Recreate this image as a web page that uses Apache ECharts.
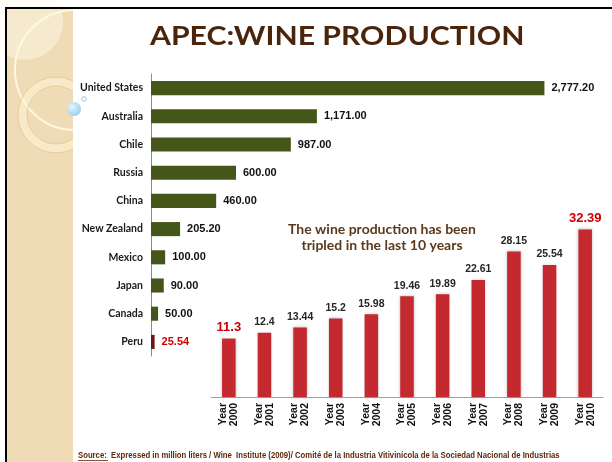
<!DOCTYPE html>
<html>
<head>
<meta charset="utf-8">
<script src="https://cdn.jsdelivr.net/npm/echarts@6/dist/echarts.min.js"></script>
<style>
  html, body { margin: 0; padding: 0; background: #fff; }
  #main { width: 612px; height: 462px; }
</style>
</head>
<body>
<div id="main"></div>
<script>
(function(){
    // APEC producers, million liters
    var countries = ['United States', 'Australia', 'Chile', 'Russia', 'China', 'New Zealand', 'Mexico', 'Japan', 'Canada', 'Peru'];
    var production = [2777.20, 1171.00, 987.00, 600.00, 460.00, 205.20, 100.00, 90.00, 50.00, 25.54];

    // Peru production by year
    var years = ['2000', '2001', '2002', '2003', '2004', '2005', '2006', '2007', '2008', '2009', '2010'];
    var peruProduction = [11.3, 12.4, 13.44, 15.2, 15.98, 19.46, 19.89, 22.61, 28.15, 25.54, 32.39];

    var gill = 'Lato, "Noto Sans", sans-serif';
    var arial = '"Liberation Sans", Arial, sans-serif';

    var myChart = echarts.init(document.getElementById('main'));

    var countryData = production.map(function(v, i){
        var isPeru = countries[i] === 'Peru';
        return {
            value: v,
            itemStyle: { color: isPeru ? '#6b1818' : '#445619' },
            label: { color: isPeru ? '#cc0000' : '#111' }
        };
    });

    var yearData = peruProduction.map(function(v, i){
        var big = (i === 0 || i === peruProduction.length - 1);
        return {
            value: v,
            label: big ? { color: '#cc0000', fontSize: 13 } : {}
        };
    });

    option = {
        animation: false,
        graphic: [
            // left decorative panel
            { type: 'rect', z: 0, shape: { x: 7, y: 9, width: 66, height: 453 }, style: { fill: '#efdcb6' } },
            { type: 'circle', z: 0, shape: { cx: 25, cy: 22, r: 38 }, style: { fill: 'rgba(255,250,235,0.45)' } },
            { type: 'circle', z: 0, shape: { cx: 75, cy: 70, r: 60 }, style: { fill: 'none', stroke: 'rgba(255,250,230,0.9)', lineWidth: 2 } },
            { type: 'ring', z: 0, shape: { cx: 56, cy: 115, r: 38, r0: 29 }, style: { fill: 'rgba(255,244,215,0.55)', stroke: 'rgba(220,190,130,0.6)', lineWidth: 1 } },
            { type: 'rect', z: 0, shape: { x: 73, y: 9, width: 540, height: 453 }, style: { fill: '#fff' } },
            { type: 'circle', z: 1, shape: { cx: 74, cy: 109, r: 7 },
              style: { fill: new echarts.graphic.RadialGradient(0.35, 0.35, 0.8, [{ offset: 0, color: '#e6f5fc' }, { offset: 1, color: '#8ccbe8' }]) } },
            { type: 'circle', z: 1, shape: { cx: 84, cy: 99, r: 2.3 }, style: { fill: '#fff', stroke: '#8ccbe8', lineWidth: 1 } },
            // frame
            { type: 'rect', z: 1, shape: { x: 5, y: 7, width: 2, height: 455 }, style: { fill: '#000' } },
            { type: 'rect', z: 1, shape: { x: 5, y: 7, width: 607, height: 2 }, style: { fill: '#000' } },
            // title
            { type: 'text', z: 1, x: 150, y: 24, scaleX: 1.16,
              style: { text: 'APEC:WINE PRODUCTION', font: 'bold 26px ' + gill, fill: '#4a250b' } },
            // note
            { type: 'text', z: 1, x: 382, y: 221,
              style: { text: 'The wine production has been\ntripled in the last 10 years', font: 'bold 14px ' + gill,
                       fill: '#5c391b', align: 'center', lineHeight: 16 } },
            // source
            { type: 'text', z: 1, x: 78, y: 451, scaleX: 0.91,
              style: { text: 'Source:  Expressed in million liters / Wine  Institute (2009)/ Comité de la Industria Vitivinícola de la Sociedad Nacional de Industrias',
                       font: 'bold 8.5px ' + arial, fill: '#5a2a0a' } },
            { type: 'rect', z: 1, shape: { x: 78, y: 460, width: 30, height: 0.8 }, style: { fill: '#5a2a0a' } }
        ],
        grid: [
            { left: 151, right: 36, top: 74, bottom: 106 },
            { left: 211, right: 9, top: 216, bottom: 65 }
        ],
        xAxis: [
            { type: 'value', gridIndex: 0, min: 0, max: 3000, show: false },
            { type: 'category', gridIndex: 1, data: years,
              axisLine: { lineStyle: { color: '#a0a0a0' } },
              axisTick: { length: 4, lineStyle: { color: '#a0a0a0' } },
              axisLabel: {
                  interval: 0, rotate: 90, margin: 6,
                  formatter: function(v){ return 'Year\n' + v; },
                  fontFamily: arial, fontWeight: 'bold', fontSize: 10.5, lineHeight: 11, color: '#111'
              }
            }
        ],
        yAxis: [
            { type: 'category', gridIndex: 0, data: countries, inverse: true,
              axisLine: { lineStyle: { color: '#8c8c8c' } },
              axisTick: { length: 3, lineStyle: { color: '#8c8c8c' } },
              axisLabel: { interval: 0, margin: 8, fontFamily: gill, fontWeight: 'bold', fontSize: 10.5, color: '#1a1a1a' }
            },
            { type: 'value', gridIndex: 1, min: 0, max: 35, show: false }
        ],
        series: [
            {
                type: 'bar', xAxisIndex: 0, yAxisIndex: 0,
                barWidth: '50%',
                data: countryData,
                label: {
                    show: true, position: 'right', distance: 7,
                    fontFamily: arial, fontWeight: 'bold', fontSize: 11,
                    formatter: function(p){
                        return p.value.toLocaleString('en-US', { minimumFractionDigits: 2, maximumFractionDigits: 2 });
                    }
                }
            },
            {
                type: 'bar', xAxisIndex: 1, yAxisIndex: 1,
                barWidth: '38%',
                data: yearData,
                itemStyle: { color: '#c3292e', shadowBlur: 3, shadowColor: 'rgba(0,0,0,0.25)' },
                label: {
                    show: true, position: 'top', distance: 5,
                    fontFamily: arial, fontWeight: 'bold', fontSize: 10.5, color: '#262626'
                }
            }
        ]
    };

    myChart.setOption(option);

    window.addEventListener('resize', function(){
        myChart.resize();
    });
})();
</script>
</body>
</html>
